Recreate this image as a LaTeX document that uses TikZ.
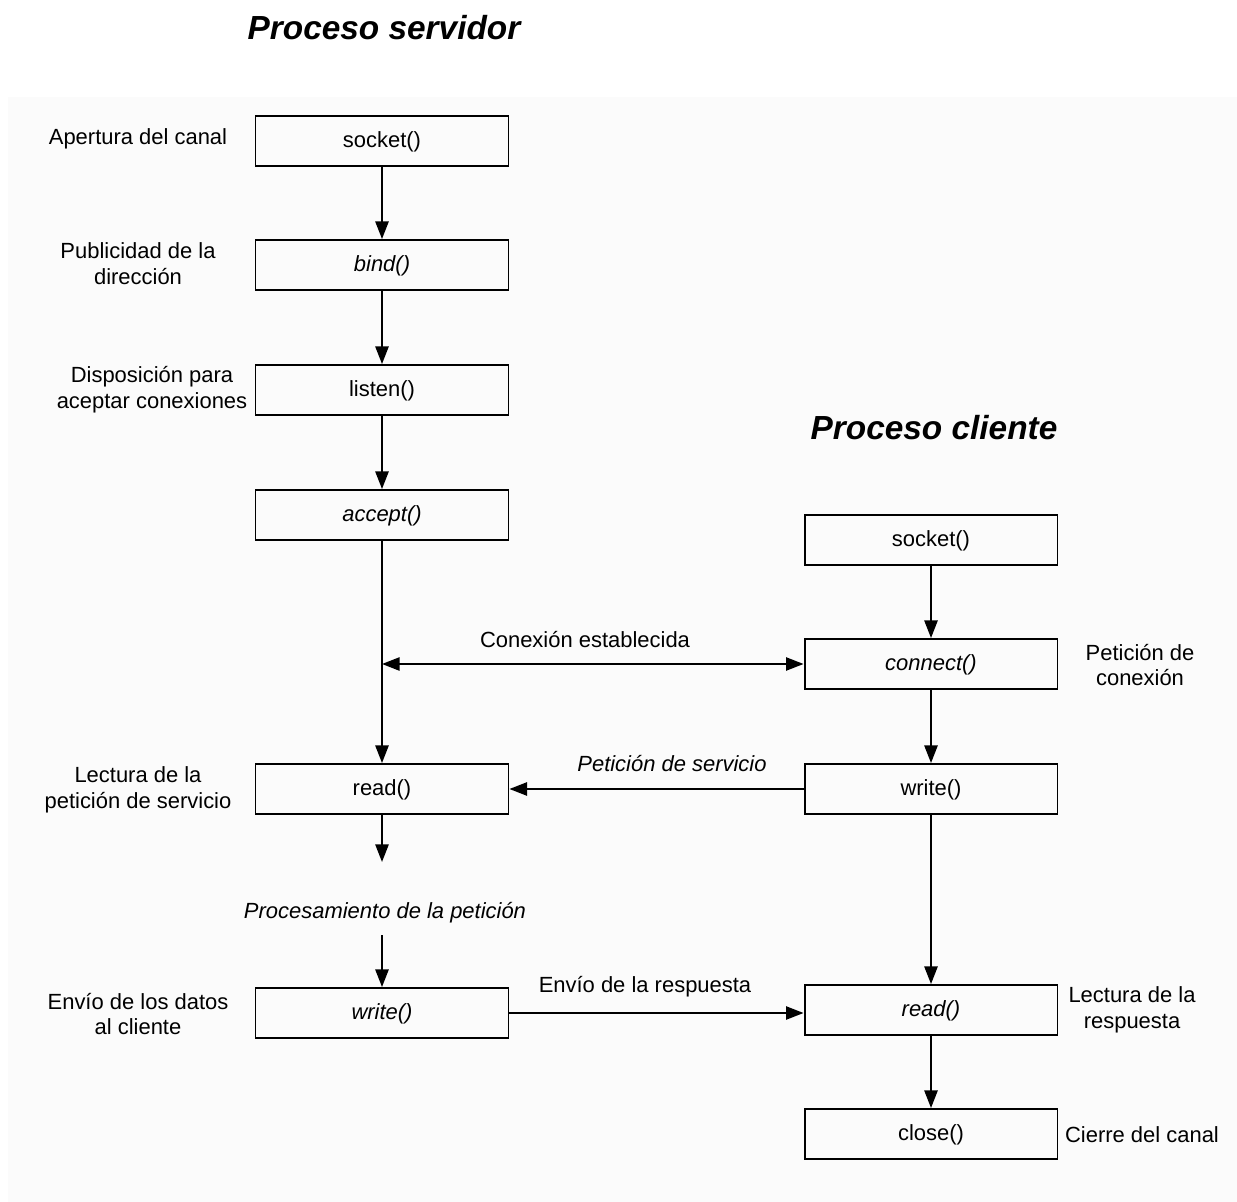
\documentclass[tikz,border=0pt]{standalone}
\usepackage{fontspec}
\setmainfont{Liberation Sans}
\usetikzlibrary{arrows.meta}
\begin{document}
\begin{tikzpicture}[x=0.02cm,y=-0.02cm,
  box/.style={draw, line width=1.1pt, minimum width=5.06cm, minimum height=1cm,
    inner sep=0pt, text depth=0.3ex, font=\fontsize{12.5}{14.7}\selectfont},
  lbl/.style={align=center, inner sep=0pt, font=\fontsize{12.5}{14.7}\selectfont},
  ttl/.style={inner sep=0pt, font=\fontsize{19}{22}\selectfont\bfseries\itshape},
  arr/.style={line width=1.1pt, -{Triangle[length=10pt,width=7.5pt]}},
  darr/.style={line width=1.1pt, {Triangle[length=10pt,width=7.5pt]}-{Triangle[length=10pt,width=7.5pt]}},
]
\useasboundingbox (0,0) rectangle (1237,1202);
\fill[black!1.5] (8,97) rectangle (1237,1202);

% titles
\node[ttl] (tserv) at (384,28) {Proceso servidor};
\node[ttl] (tcli) at (934,428) {Proceso cliente};

% server column
\node[box] (ssock) at (382,141) {socket()};
\node[box] (sbind) at (382,265) {\itshape bind()};
\node[box] (slist) at (382,390) {listen()};
\node[box] (sacc)  at (382,515) {\itshape accept()};
\node[box] (sread) at (382,789) {read()};
\node[box] (swrite) at (382,1013) {\itshape write()};

% client column
\node[box] (csock) at (931,540) {socket()};
\node[box] (cconn) at (931,664) {\itshape connect()};
\node[box] (cwrite) at (931,789) {write()};
\node[box] (cread) at (931,1010) {\itshape read()};
\node[box] (cclose) at (931,1134) {close()};

% server side labels
\node[lbl] (l1) at (138,139) {Apertura del canal};
\node[lbl] (l2) at (138,264) {Publicidad de la\\dirección};
\node[lbl] (l3) at (152,390) {Disposición para\\aceptar conexiones};
\node[lbl] (l4) at (138,790) {Lectura de la\\petición de servicio};
\node[lbl] (l5) at (138,1014) {Envío de los datos\\al cliente};

% client side labels
\node[lbl] (r1) at (1140,665) {Petición de\\conexión};
\node[lbl] (r2) at (1132,1010) {Lectura de la\\respuesta};
\node[lbl] (r3) at (1142,1135) {Cierre del canal};

% message labels
\node[lbl] (m1) at (585,640) {Conexión establecida};
\node[lbl] (m2) at (672,764) {\itshape Petición de servicio};
\node[lbl] (m3) at (645,987) {Envío de la respuesta};
\node[lbl] (proc) at (385,913) {\itshape Procesamiento de la petición};

% server flow
\draw[arr] (ssock) -- (sbind);
\draw[arr] (sbind) -- (slist);
\draw[arr] (slist) -- (sacc);
\draw[arr] (sacc) -- (sread);
\coordinate (pend) at (382,862);
\coordinate (pstart) at (382,935);
\draw[arr] (sread) -- (pend);
\draw[arr] (pstart) -- (swrite);

% client flow
\draw[arr] (csock) -- (cconn);
\draw[arr] (cconn) -- (cwrite);
\draw[arr] (cwrite) -- (cread);
\draw[arr] (cread) -- (cclose);

% messages between processes
\coordinate (cx) at (382,664);
\draw[darr] (cx) -- (cconn.west);
\draw[arr] (cwrite.west) -- (sread.east);
\draw[arr] (swrite.east) -- (swrite.east -| cread.west);
\end{tikzpicture}
\end{document}
